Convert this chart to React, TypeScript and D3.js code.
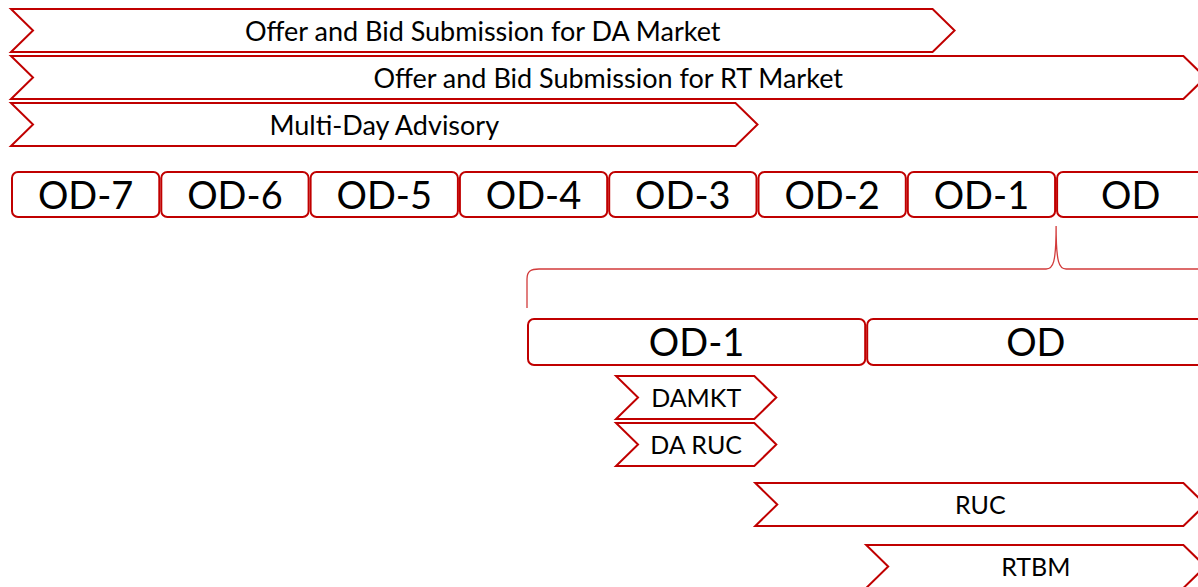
import React from "react";
import * as d3 from "d3";

// ---- data ----
const DAY_LABELS = ["OD-7", "OD-6", "OD-5", "OD-4", "OD-3", "OD-2", "OD-1", "OD"];
const DAY_OFFSETS = [-7, -6, -5, -4, -3, -2, -1, 0];

const SUBMISSION_LABELS = [
  "Offer and Bid Submission for DA Market",
  "Offer and Bid Submission for RT Market",
  "Multi-Day Advisory",
];
const SUBMISSION_START = [-7, -7, -7];
const SUBMISSION_END = [-0.68, 1, -2];

const DETAIL_LABELS = ["OD-1", "OD"];
const DETAIL_OFFSETS = [-1, 0];

const PROCESS_LABELS = ["DAMKT", "DA RUC", "RUC", "RTBM"];
const PROCESS_START = [-0.7375, -0.7375, -0.327, 0];
const PROCESS_END = [-0.265, -0.265, 1, 1];

// ---- layout ----
const W = 1198;
const H = 587;
const RED = "#C00000";
const FONT = "Lato, 'Open Sans', sans-serif";
const NOTCH = 22;
const PROCESS_ROWS_Y = [376, 423, 483, 545];
const CHEVRON_H = 43;

function chevron(xs: number, xe: number, y0: number, h: number) {
  const p = d3.path();
  p.moveTo(xs, y0);
  p.lineTo(xe - NOTCH, y0);
  p.lineTo(xe, y0 + h / 2);
  p.lineTo(xe - NOTCH, y0 + h);
  p.lineTo(xs, y0 + h);
  p.lineTo(xs + NOTCH, y0 + h / 2);
  p.closePath();
  return p.toString();
}

export default function App() {
  const xWeek = d3.scaleLinear().domain([-7, 1]).range([11, 1205.4]);
  const xDetail = d3.scaleLinear().domain([-1, 1]).range([527, 1205.4]);
  const yTop = d3
    .scaleBand<number>()
    .domain(SUBMISSION_LABELS.map((_, i) => i))
    .range([9, 146])
    .paddingInner(4 / 47)
    .paddingOuter(0);

  const dayY0 = 172;
  const dayH = 45;
  const detY0 = 319;
  const detH = 46;

  // brace
  const bL = xDetail(-1);
  const bPeak = xWeek(0);
  const bR = bPeak + (bPeak - bL);
  const bY = 269;
  const bTop = 226;
  const bBottom = 308;
  const brace = d3.path();
  brace.moveTo(bL, bBottom);
  brace.lineTo(bL, bY + 10);
  brace.bezierCurveTo(bL, bY + 2, bL + 4, bY, bL + 12, bY);
  brace.lineTo(bPeak - 10, bY);
  brace.bezierCurveTo(bPeak - 3, bY, bPeak, bY - 6, bPeak, bTop);
  brace.bezierCurveTo(bPeak, bY - 6, bPeak + 3, bY, bPeak + 10, bY);
  brace.lineTo(bR - 12, bY);
  brace.bezierCurveTo(bR - 4, bY, bR, bY + 2, bR, bY + 10);
  brace.lineTo(bR, bBottom);

  return (
    <svg
      width={W}
      height={H}
      style={{ position: "absolute", left: 0, top: 0, background: "#fff" }}
      fontFamily={FONT}
    >
      {SUBMISSION_LABELS.map((label, i) => {
        const xs = xWeek(SUBMISSION_START[i]);
        const xe = xWeek(SUBMISSION_END[i]);
        const y0 = yTop(i)!;
        const h = yTop.bandwidth();
        return (
          <g key={label}>
            <path d={chevron(xs, xe, y0, h)} fill="#fff" stroke={RED} strokeWidth={2} strokeLinejoin="miter" />
            <text x={(xs + xe) / 2} y={y0 + h / 2 + 10} textAnchor="middle" fontSize={27} fill="#000">
              {label}
            </text>
          </g>
        );
      })}

      {DAY_LABELS.map((label, i) => {
        const x0 = xWeek(DAY_OFFSETS[i]);
        const x1 = xWeek(DAY_OFFSETS[i] + 1);
        return (
          <g key={label}>
            <rect x={x0 + 1} y={dayY0} width={x1 - x0 - 2} height={dayH} rx={6} fill="#fff" stroke={RED} strokeWidth={2} />
            <text x={(x0 + x1) / 2} y={dayY0 + dayH / 2 + 14} textAnchor="middle" fontSize={38} fill="#000">
              {label}
            </text>
          </g>
        );
      })}

      <path d={brace.toString()} fill="none" stroke="#D23B3B" strokeWidth={1.3} />

      {DETAIL_LABELS.map((label, i) => {
        const x0 = xDetail(DETAIL_OFFSETS[i]);
        const x1 = xDetail(DETAIL_OFFSETS[i] + 1);
        return (
          <g key={label}>
            <rect x={x0 + 1} y={detY0} width={x1 - x0 - 2} height={detH} rx={6} fill="#fff" stroke={RED} strokeWidth={2} />
            <text x={(x0 + x1) / 2} y={detY0 + detH / 2 + 14} textAnchor="middle" fontSize={38} fill="#000">
              {label}
            </text>
          </g>
        );
      })}

      {PROCESS_LABELS.map((label, i) => {
        const xs = xDetail(PROCESS_START[i]);
        const xe = xDetail(PROCESS_END[i]);
        const y0 = PROCESS_ROWS_Y[i];
        return (
          <g key={label}>
            <path d={chevron(xs, xe, y0, CHEVRON_H)} fill="#fff" stroke={RED} strokeWidth={2} />
            <text x={(xs + xe) / 2} y={y0 + CHEVRON_H / 2 + 9} textAnchor="middle" fontSize={25} fill="#000">
              {label}
            </text>
          </g>
        );
      })}
    </svg>
  );
}
